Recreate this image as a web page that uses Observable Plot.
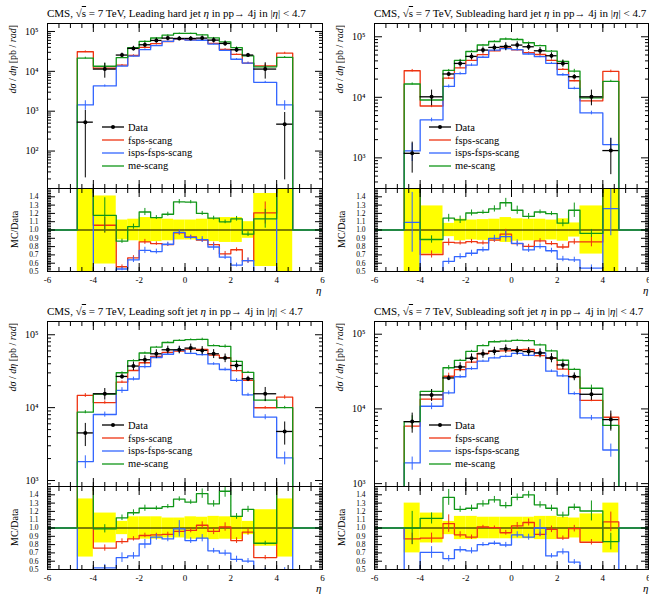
<!DOCTYPE html>
<html><head><meta charset="utf-8">
<script src="https://cdn.jsdelivr.net/npm/d3@7"></script>
<script src="https://cdn.jsdelivr.net/npm/@observablehq/plot@0.6"></script>
<style>
body{margin:0;background:#fff;}
#root{position:relative;width:649px;height:594px;overflow:hidden;font-family:"Liberation Serif","DejaVu Serif",serif;color:#000;}
.title{position:absolute;font-size:11px;white-space:nowrap;line-height:12px;}
.ylab{position:absolute;writing-mode:vertical-rl;transform:rotate(180deg);font-size:10px;white-space:nowrap;line-height:12px;}
.eta{position:absolute;font-size:11px;font-style:italic;line-height:9px;}
.legend{position:absolute;font-size:10.5px;}
.legend .row{height:12.8px;display:flex;align-items:center;white-space:nowrap;}
.legend svg{margin-right:4px;}
</style></head><body><div id="root"></div>
<script>
// ---- data ----
const binEdges = [-4.7,-4,-3,-2.5,-2,-1.5,-1,-0.5,0,0.5,1,1.5,2,2.5,3,4,4.7];
const seriesNames = ["Data","fsps-scang","isps-fsps-scang","me-scang"];
const seriesColors = ["#000000","#ee3311","#3366ff","#109618"];
const panelTitles = ["Leading hard jet","Subleading hard jet","Leading soft jet","Subleading soft jet"];

const leadHardData   = [531, 11400, 25600, 37600, 46400, 59600, 68100, 66800, 66800, 68100, 60700, 50100, 34800, 25600, 11400, 473];
const leadHardDataRelErr = [0.96, 0.41, 0.12, 0.13, 0.15, 0.14, 0.13, 0.12, 0.12, 0.13, 0.14, 0.15, 0.15, 0.10, 0.44, 0.96];
const leadHardFsps   = [31000, 12050, 14260, 24970, 39760, 49830, 56110, 64600, 61320, 59720, 50020, 35720, 26520, 16150, 13740, 28700];
const leadHardIsps   = [1440, 4300, 13570, 24060, 34990, 44100, 56390, 64860, 60790, 60270, 48260, 33670, 20110, 16150, 5300, 1440];
const leadHardMe     = [21500, 13410, 22140, 39100, 56470, 68540, 81040, 89510, 89240, 81720, 69380, 55010, 39500, 24320, 12940, 22400];
const leadHardFspsRelErr = [0.05, 0.09, 0.04, 0.04, 0.035, 0.025, 0.025, 0.03, 0.02, 0.025, 0.035, 0.04, 0.03, 0.05, 0.11, 0.05];
const leadHardIspsRelErr = [0.27, 0.06, 0.04, 0.05, 0.05, 0.04, 0.03, 0.03, 0.03, 0.04, 0.05, 0.04, 0.04, 0.05, 0.06, 0.27];
const leadHardMeRelErr   = [0.05, 0.18, 0.03, 0.03, 0.035, 0.02, 0.02, 0.02, 0.015, 0.02, 0.02, 0.02, 0.025, 0.03, 0.10, 0.05];

const subHardData    = [1190, 10200, 24300, 36300, 47400, 60300, 66700, 69200, 72900, 68400, 58700, 48600, 36300, 21900, 10200, 1320];
const subHardDataRelErr = [0.53, 0.29, 0.08, 0.13, 0.12, 0.125, 0.13, 0.15, 0.135, 0.13, 0.13, 0.12, 0.135, 0.085, 0.29, 0.6];
const subHardFsps    = [27500, 7190, 20700, 30640, 40810, 50890, 58500, 65810, 60940, 54930, 51010, 40630, 28860, 18770, 8740, 26800];
const subHardIsps    = [1300, 4230, 15140, 24680, 34130, 45950, 60030, 63660, 61240, 51980, 46960, 36450, 23600, 14020, 5520, 1660];
const subHardMe      = [16600, 9030, 27770, 40760, 57120, 73140, 83640, 91900, 90250, 79620, 71440, 58170, 39280, 27110, 9780, 18400];
const subHardFspsRelErr = [0.05, 0.06, 0.05, 0.03, 0.03, 0.03, 0.03, 0.06, 0.03, 0.03, 0.03, 0.03, 0.04, 0.04, 0.07, 0.05];
const subHardIspsRelErr = [0.33, 0.07, 0.06, 0.05, 0.05, 0.04, 0.04, 0.07, 0.05, 0.04, 0.04, 0.04, 0.05, 0.05, 0.07, 0.26];
const subHardMeRelErr   = [0.04, 0.05, 0.04, 0.04, 0.03, 0.02, 0.03, 0.04, 0.04, 0.03, 0.02, 0.02, 0.04, 0.07, 0.05, 0.04];

const leadSoftData   = [4500, 15500, 26800, 37200, 45400, 54800, 62200, 62200, 65600, 61000, 54800, 47900, 37900, 24900, 15500, 4710];
const leadSoftDataRelErr = [0.35, 0.18, 0.08, 0.135, 0.135, 0.135, 0.12, 0.12, 0.135, 0.13, 0.14, 0.135, 0.14, 0.08, 0.22, 0.35];
const leadSoftFsps   = [14700, 11750, 22400, 32330, 41310, 50310, 57350, 59650, 63700, 63010, 52550, 48470, 32140, 23680, 9970, 13900];
const leadSoftIsps   = [1820, 8050, 17230, 24700, 36640, 48720, 54050, 61580, 55630, 53500, 39730, 33390, 23610, 14990, 7410, 2050];
const leadSoftMe     = [8670, 15350, 30100, 44040, 56210, 67840, 78250, 83850, 86000, 86250, 70750, 69120, 43170, 30500, 12650, 10000];
const leadSoftFspsRelErr = [0.06, 0.05, 0.04, 0.03, 0.03, 0.02, 0.03, 0.03, 0.03, 0.04, 0.04, 0.05, 0.04, 0.04, 0.04, 0.06];
const leadSoftIspsRelErr = [0.2, 0.08, 0.09, 0.06, 0.07, 0.04, 0.04, 0.10, 0.04, 0.05, 0.04, 0.05, 0.06, 0.05, 0.08, 0.2];
const leadSoftMeRelErr   = [0.05, 0.05, 0.03, 0.03, 0.03, 0.02, 0.02, 0.02, 0.02, 0.04, 0.03, 0.05, 0.03, 0.03, 0.03, 0.04];

const subSoftData    = [6760, 15400, 26000, 36500, 47700, 54600, 59200, 63600, 60400, 58600, 56200, 48200, 38800, 27100, 15700, 7200];
const subSoftDataRelErr = [0.3, 0.18, 0.08, 0.14, 0.14, 0.13, 0.13, 0.13, 0.13, 0.13, 0.14, 0.14, 0.13, 0.12, 0.17, 0.3];
const subSoftFsps    = [5870, 13510, 27380, 33510, 42410, 55260, 59440, 59970, 61910, 62470, 51820, 47430, 34030, 26880, 13000, 7730];
const subSoftIsps    = [1890, 10860, 16410, 26940, 34580, 43680, 48310, 50560, 55450, 52100, 56200, 32000, 27660, 15990, 7570, 2820];
const subSoftMe      = [6760, 17170, 35590, 44710, 59050, 70490, 79330, 80770, 82690, 82040, 71880, 59670, 44850, 33880, 18920, 6020];
const subSoftFspsRelErr = [0.08, 0.07, 0.10, 0.04, 0.03, 0.02, 0.02, 0.03, 0.04, 0.04, 0.03, 0.04, 0.03, 0.04, 0.04, 0.11];
const subSoftIspsRelErr = [0.2, 0.10, 0.06, 0.05, 0.05, 0.03, 0.03, 0.04, 0.04, 0.04, 0.10, 0.04, 0.05, 0.05, 0.08, 0.2];
const subSoftMeRelErr   = [0.2, 0.06, 0.07, 0.03, 0.03, 0.03, 0.03, 0.03, 0.03, 0.03, 0.03, 0.03, 0.03, 0.03, 0.10, 0.12];

const mainYDomains = [[11.5, 158500], [312, 165700], [828, 152000], [915, 148000]];
const xDomain = [-6, 6];
const ratioDomain = [0.5, 1.5];
const xTickLabels = [-6, -4, -2, 0, 2, 4, 6];
const ratioTickLabels = [0.5, 0.6, 0.7, 0.8, 0.9, 1.0, 1.1, 1.2, 1.3, 1.4];

// ---- layout ----
const panels = [
  {title: panelTitles[0], data: leadHardData, dataErr: leadHardDataRelErr, mc: [leadHardFsps, leadHardIsps, leadHardMe], mcErr: [leadHardFspsRelErr, leadHardIspsRelErr, leadHardMeRelErr], yDomain: mainYDomains[0], left: 0, width: 325, mr: 3, top: 0},
  {title: panelTitles[1], data: subHardData, dataErr: subHardDataRelErr, mc: [subHardFsps, subHardIsps, subHardMe], mcErr: [subHardFspsRelErr, subHardIspsRelErr, subHardMeRelErr], yDomain: mainYDomains[1], left: 327, width: 322, mr: 1, top: 0},
  {title: panelTitles[2], data: leadSoftData, dataErr: leadSoftDataRelErr, mc: [leadSoftFsps, leadSoftIsps, leadSoftMe], mcErr: [leadSoftFspsRelErr, leadSoftIspsRelErr, leadSoftMeRelErr], yDomain: mainYDomains[2], left: 0, width: 325, mr: 3, top: 298},
  {title: panelTitles[3], data: subSoftData, dataErr: subSoftDataRelErr, mc: [subSoftFsps, subSoftIsps, subSoftMe], mcErr: [subSoftFspsRelErr, subSoftIspsRelErr, subSoftMeRelErr], yDomain: mainYDomains[3], left: 327, width: 322, mr: 1, top: 298}
];

const root = document.getElementById("root");
function place(el, left, top) {
  el.style.position = "absolute";
  el.style.left = left + "px";
  el.style.top = top + "px";
  root.appendChild(el);
  return el;
}
const sup = {1:"¹",2:"²",3:"³",4:"⁴",5:"⁵",6:"⁶"};
const fmtX = d => (d < 0 ? "-" + Math.abs(d) : String(d));
const xMinor = d3.range(-5.5, 6, 0.5);
const xMajor = [-4, -2, 0, 2, 4];
const font = {fontFamily: '"Liberation Serif","DejaVu Serif",serif', fontSize: "9px", background: "transparent", overflow: "visible"};

function tickMarks(xMin, xMaj, yMin, yMaj) {
  return [
    Plot.axisX(xMin, {anchor: "bottom", tickSize: -4, fill: "none"}),
    Plot.axisX(xMaj, {anchor: "bottom", tickSize: -8, fill: "none"}),
    Plot.axisX(xMin, {anchor: "top", tickSize: -4, fill: "none"}),
    Plot.axisX(xMaj, {anchor: "top", tickSize: -8, fill: "none"}),
    Plot.axisY(yMin, {anchor: "left", tickSize: -4, fill: "none"}),
    Plot.axisY(yMaj, {anchor: "left", tickSize: -8, fill: "none"}),
    Plot.axisY(yMin, {anchor: "right", tickSize: -4, fill: "none"}),
    Plot.axisY(yMaj, {anchor: "right", tickSize: -8, fill: "none"})
  ];
}

panels.forEach((p, pi) => {
  const [ymin, ymax] = p.yDomain;
  const bins = p.data.map((v, i) => ({lo: binEdges[i], hi: binEdges[i + 1], c: (binEdges[i] + binEdges[i + 1]) / 2, v, e: v * p.dataErr[i], rel: p.dataErr[i]}));
  const decades = d3.range(Math.ceil(Math.log10(ymin)), Math.floor(Math.log10(ymax)) + 1).map(k => Math.pow(10, k));
  const minors = [];
  for (let k = Math.floor(Math.log10(ymin)); k <= Math.ceil(Math.log10(ymax)); k++)
    for (let m = 2; m <= 9; m++) { const v = m * Math.pow(10, k); if (v > ymin && v < ymax) minors.push(v); }

  // main panel marks
  const marks = [];
  p.mc.forEach((vals, si) => {
    const pts = [{x: binEdges[0], y: ymin}];
    vals.forEach((v, i) => { pts.push({x: binEdges[i], y: v}, {x: binEdges[i + 1], y: v}); });
    pts.push({x: binEdges[binEdges.length - 1], y: ymin});
    marks.push(Plot.line(pts, {x: "x", y: "y", stroke: seriesColors[si + 1], strokeWidth: 1.3, clip: true}));
    const eb = vals.map((v, i) => ({c: bins[i].c, lo: v * (1 - p.mcErr[si][i]), hi: v * (1 + p.mcErr[si][i])}));
    marks.push(Plot.ruleX(eb, {x: "c", y1: "lo", y2: "hi", stroke: seriesColors[si + 1], strokeWidth: 1, clip: true}));
  });
  marks.push(Plot.ruleY(bins, {y: "v", x1: "lo", x2: "hi", stroke: "black", strokeWidth: 1.3, clip: true}));
  marks.push(Plot.ruleX(bins, {x: "c", y1: d => Math.max(d.v - d.e, ymin), y2: d => d.v + d.e, stroke: "black", strokeWidth: 1, clip: true}));
  marks.push(Plot.dot(bins, {x: "c", y: "v", r: 2, fill: "black", stroke: "none"}));
  marks.push(...tickMarks(xMinor, xMajor, minors, decades));
  marks.push(Plot.axisY(decades, {anchor: "left", tickSize: 0, tickPadding: 9, fontSize: 10, tickFormat: d => "10" + sup[Math.round(Math.log10(d))], label: null}));
  marks.push(Plot.frame({stroke: "black", strokeWidth: 1}));

  const mainSvg = Plot.plot({
    width: p.width, height: 169, marginLeft: 47, marginRight: p.mr, marginTop: 3, marginBottom: 1,
    x: {domain: xDomain},
    y: {type: "log", domain: [ymin, ymax]},
    style: font,
    marks
  });
  place(mainSvg, p.left, p.top + 20);

  // ratio panel marks
  const rmarks = [];
  rmarks.push(Plot.rect(bins, {x1: "lo", x2: "hi", y1: d => 1 - d.rel, y2: d => 1 + d.rel, fill: "#ffff00", clip: true}));
  rmarks.push(Plot.ruleY([1], {stroke: "black", strokeWidth: 1}));
  p.mc.forEach((vals, si) => {
    const pts = [{x: xDomain[0], y: 1}, {x: binEdges[0], y: 1}];
    vals.forEach((v, i) => { const r = v / p.data[i]; pts.push({x: binEdges[i], y: r}, {x: binEdges[i + 1], y: r}); });
    pts.push({x: binEdges[binEdges.length - 1], y: 1}, {x: xDomain[1], y: 1});
    rmarks.push(Plot.line(pts, {x: "x", y: "y", stroke: seriesColors[si + 1], strokeWidth: 1.3, clip: true}));
    const eb = vals.map((v, i) => { const r = v / p.data[i]; return {c: bins[i].c, lo: r * (1 - p.mcErr[si][i]), hi: r * (1 + p.mcErr[si][i])}; });
    rmarks.push(Plot.ruleX(eb, {x: "c", y1: "lo", y2: "hi", stroke: seriesColors[si + 1], strokeWidth: 1, clip: true}));
  });
  const rMinor = d3.range(0.52, 1.5, 0.02).map(v => Math.round(v * 100) / 100);
  rmarks.push(...tickMarks(xMinor, xMajor, rMinor, ratioTickLabels));
  rmarks.push(Plot.axisY(ratioTickLabels, {anchor: "left", tickSize: 0, tickPadding: 9, fontSize: 7.5, tickFormat: d => d.toFixed(1), label: null}));
  rmarks.push(Plot.axisX(xTickLabels, {anchor: "bottom", tickSize: 0, tickPadding: 5, tickFormat: fmtX, label: null}));
  rmarks.push(Plot.frame({stroke: "black", strokeWidth: 1}));

  const ratioSvg = Plot.plot({
    width: p.width, height: 109, marginLeft: 47, marginRight: p.mr, marginTop: 1, marginBottom: 25,
    x: {domain: xDomain},
    y: {domain: ratioDomain},
    style: font,
    marks: rmarks
  });
  place(ratioSvg, p.left, p.top + 187);

  // texts
  const t = document.createElement("div");
  t.className = "title";
  t.innerHTML = `CMS, √<span style="text-decoration:overline">s</span> = 7 TeV, ${p.title} <i>η</i> in pp→ 4j in |<i>η</i>| &lt; 4.7`;
  place(t, p.left + 47, p.top + 7);

  const yl = document.createElement("div");
  yl.className = "ylab";
  yl.innerHTML = `<i>d</i><i>σ</i> / <i>d</i><i>η</i> [pb / <i>rad</i>]`;
  place(yl, p.left + 7, p.top + 25);

  const rl = document.createElement("div");
  rl.className = "ylab";
  rl.style.height = "83px";
  rl.style.textAlign = "center";
  rl.textContent = "MC/Data";
  place(rl, p.left + 9, p.top + 188);

  const eta = document.createElement("div");
  eta.className = "eta";
  eta.textContent = "η";
  place(eta, p.left + 316, p.top + 286);

  const lg = document.createElement("div");
  lg.className = "legend";
  seriesNames.forEach((n, i) => {
    const row = document.createElement("div");
    row.className = "row";
    row.innerHTML = `<svg width="22" height="10"><line x1="0" x2="22" y1="5" y2="5" stroke="${seriesColors[i]}" stroke-width="1.3"/>${i === 0 ? '<circle cx="11" cy="5" r="2" fill="black"/>' : ''}</svg><span>${n}</span>`;
    lg.appendChild(row);
  });
  place(lg, p.left + 102, p.top + 121);
});
</script>
</body></html>
